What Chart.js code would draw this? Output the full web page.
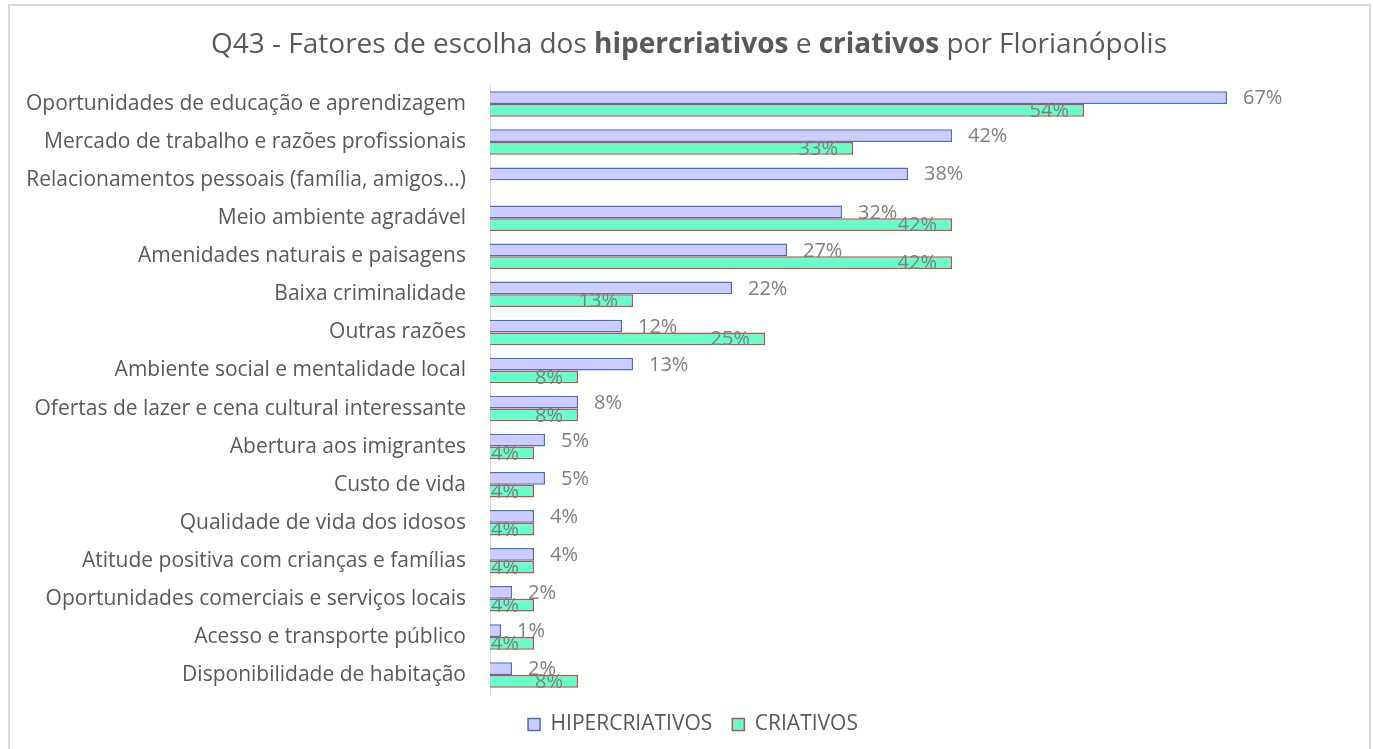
<!DOCTYPE html>
<html>
<head>
<meta charset="utf-8">
<script src="https://cdn.jsdelivr.net/npm/chart.js@4"></script>
<style>
  html, body { margin: 0; padding: 0; background: #fff; }
  #frame {
    position: absolute; left: 8px; top: 4px; width: 1363px; height: 800px;
    border: 2px solid #d9d9d9; box-sizing: border-box;
  }
  #wrap { position: absolute; left: 0; top: 0; width: 1373px; height: 749px; }
</style>
</head>
<body>
<div id="frame"></div>
<div id="wrap"><canvas id="chart"></canvas></div>
<script>
const categories = [
  "Oportunidades de educação e aprendizagem",
  "Mercado de trabalho e razões profissionais",
  "Relacionamentos pessoais (família, amigos...)",
  "Meio ambiente agradável",
  "Amenidades naturais e paisagens",
  "Baixa criminalidade",
  "Outras razões",
  "Ambiente social e mentalidade local",
  "Ofertas de lazer e cena cultural interessante",
  "Abertura aos imigrantes",
  "Custo de vida",
  "Qualidade de vida dos idosos",
  "Atitude positiva com crianças e famílias",
  "Oportunidades comerciais e serviços locais",
  "Acesso e transporte público",
  "Disponibilidade de habitação"
];
const hipercriativos = [67, 42, 38, 32, 27, 22, 12, 13, 8, 5, 5, 4, 4, 2, 1, 2];
const criativos = [54, 33, null, 42, 42, 13, 25, 8, 8, 4, 4, 4, 4, 4, 4, 8];

const FONT = "'Open Sans', sans-serif";

// title with bold words
const titlePlugin = {
  id: "richTitle",
  afterDraw(chart) {
    const ctx = chart.ctx;
    const parts = [
      ["Q43 - Fatores de escolha dos ", false],
      ["hipercriativos", true],
      [" e ", false],
      ["criativos", true],
      [" por Florianópolis", false]
    ];
    const size = 28;
    ctx.save();
    ctx.fillStyle = "#595959";
    ctx.textBaseline = "middle";
    let total = 0;
    parts.forEach(([t, b]) => {
      ctx.font = (b ? "bold " : "") + size + "px " + FONT;
      total += ctx.measureText(t).width;
    });
    let x = 689 - total / 2;
    parts.forEach(([t, b]) => {
      ctx.font = (b ? "bold " : "") + size + "px " + FONT;
      ctx.fillText(t, x, 45);
      x += ctx.measureText(t).width;
    });
    ctx.restore();
  }
};

// percent labels
const labelPlugin = {
  id: "pctLabels",
  afterDatasetsDraw(chart) {
    const ctx = chart.ctx;
    ctx.save();
    ctx.font = "20px " + FONT;
    ctx.fillStyle = "#7f7f7f";
    ctx.textBaseline = "middle";
    chart.data.datasets.forEach((ds, i) => {
      const meta = chart.getDatasetMeta(i);
      meta.data.forEach((bar, j) => {
        const v = ds.data[j];
        if (v === null) return;
        if (i === 0) {
          ctx.textAlign = "left";
          ctx.fillText(v + "%", bar.x + 16, bar.y + 1);
        } else {
          ctx.textAlign = "right";
          ctx.fillText(v + "%", bar.x - 15, bar.y + 1);
        }
      });
    });
    ctx.restore();
  }
};

const data = {
  labels: categories,
  datasets: [
    {
      label: "HIPERCRIATIVOS",
      data: hipercriativos,
      backgroundColor: "#ccccff",
      borderColor: "#4472c4",
      borderWidth: 1.5,
    },
    {
      label: "CRIATIVOS",
      data: criativos,
      backgroundColor: "#66ffcc",
      borderColor: "#c0504d",
      borderWidth: 1.5,
    },
  ],
};

const config = {
  type: "bar",
  data: data,
  options: {
    indexAxis: "y",
    responsive: false,
    animation: false,
    layout: {
      padding: { top: 85, left: 16, right: 3, bottom: 4 },
    },
    datasets: {
      bar: {
        categoryPercentage: 0.67,
        barPercentage: 1,
      },
    },
    scales: {
      x: {
        display: false,
        min: 0,
        max: 80,
      },
      y: {
        afterFit: (scale) => {
          scale.width = 474;
        },
        ticks: {
          color: "#595959",
          padding: 24,
          font: { family: FONT, size: 21 },
        },
        grid: {
          color: "transparent",
          drawTicks: false,
        },
        border: {
          color: "#d9d9d9",
          width: 1,
        },
      },
    },
    plugins: {
      legend: {
        position: "bottom",
        labels: {
          color: "#595959",
          boxWidth: 12,
          boxHeight: 12,
          padding: 20,
          font: { family: FONT, size: 21 },
        },
      },
      tooltip: { enabled: false },
    },
  },
  plugins: [titlePlugin, labelPlugin],
};

const canvas = document.getElementById("chart");
canvas.width = 1373;
canvas.height = 749;
const chart = new Chart(canvas, config);
</script>
</body>
</html>
